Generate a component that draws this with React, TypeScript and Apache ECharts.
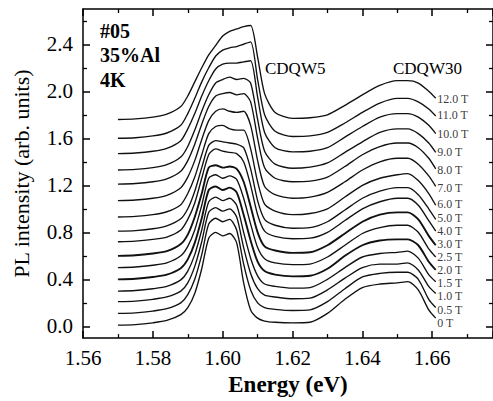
import React, { useEffect, useRef } from "react";
import * as echarts from "echarts";

// Photon energy grid (eV)
const energy = [
  1.570, 1.575, 1.580, 1.584, 1.588, 1.590, 1.592, 1.594, 1.596, 1.598,
  1.600, 1.602, 1.604, 1.606, 1.608, 1.610, 1.612, 1.615, 1.620, 1.625,
  1.630, 1.635, 1.640, 1.645, 1.650, 1.653, 1.656, 1.659, 1.661,
];

const fields = ["0 T", "0.5 T", "1.0 T", "1.5 T", "2.0 T", "2.5 T", "3.0 T", "4.0 T", "5.0 T", "6.0 T", "7.0 T", "8.0 T", "9.0 T", "10.0 T", "11.0 T", "12.0 T"];

// vertical offsets of the stacked spectra
const offsets = [0.01, 0.11, 0.21, 0.30, 0.40, 0.50, 0.60, 0.72, 0.81, 0.93, 1.07, 1.21, 1.33, 1.47, 1.60, 1.76];

// PL intensity above each baseline
const p0T = [0, .005, .02, .04, .09, .15, .27, .48, .74, .79, .76, .78, .70, .36, .13, .06, .035, .025, .02, .025, .10, .22, .32, .35, .36, .37, .30, .13, .06];
const p05T = [0, .005, .02, .04, .09, .16, .29, .50, .76, .81, .78, .80, .71, .42, .20, .09, .05, .035, .025, .03, .10, .21, .31, .34, .35, .35, .29, .12, .05];
const p1T = [0, .005, .02, .04, .09, .16, .30, .51, .76, .80, .77, .79, .72, .46, .24, .11, .055, .04, .025, .03, .10, .20, .29, .32, .32, .33, .27, .13, .07];
const p15T = [0, .005, .02, .04, .095, .17, .31, .52, .76, .80, .77, .79, .73, .50, .28, .13, .06, .04, .025, .03, .10, .20, .29, .32, .33, .34, .28, .14, .08];
const p2T = [0, .005, .02, .04, .095, .17, .31, .52, .76, .79, .76, .78, .74, .55, .33, .15, .07, .04, .025, .03, .09, .20, .29, .33, .34, .34, .29, .15, .08];
const p25T = [0, .005, .02, .04, .10, .18, .32, .53, .76, .79, .76, .78, .75, .59, .37, .17, .075, .04, .025, .03, .09, .19, .29, .34, .36, .36, .30, .16, .09];
const p3T = [0, .005, .02, .04, .10, .18, .33, .53, .75, .77, .75, .76, .74, .63, .42, .20, .08, .045, .025, .03, .09, .19, .29, .35, .37, .37, .31, .17, .09];
const p4T = [0, .005, .02, .04, .10, .19, .33, .54, .74, .79, .77, .76, .75, .68, .48, .23, .09, .045, .025, .03, .08, .18, .28, .34, .37, .37, .31, .18, .09];
const p5T = [0, .005, .02, .045, .105, .19, .34, .54, .73, .77, .76, .75, .74, .71, .53, .26, .10, .05, .025, .03, .08, .18, .28, .34, .37, .37, .31, .19, .10];
const p6T = [0, .005, .02, .045, .105, .20, .34, .53, .71, .77, .78, .75, .74, .74, .58, .30, .11, .05, .02, .03, .07, .17, .27, .33, .36, .37, .31, .20, .10];
const p7T = [0, .005, .02, .045, .11, .20, .34, .52, .68, .76, .78, .76, .75, .76, .64, .34, .12, .05, .02, .03, .07, .16, .26, .33, .36, .36, .31, .21, .12];
const p8T = [0, .005, .02, .045, .11, .20, .34, .51, .66, .75, .77, .78, .76, .77, .70, .39, .14, .05, .02, .025, .06, .15, .25, .32, .35, .35, .31, .22, .13];
const p9T = [0, .005, .02, .045, .11, .20, .34, .50, .64, .74, .77, .79, .77, .78, .74, .43, .16, .05, .015, .025, .06, .15, .24, .32, .35, .35, .31, .23, .15];
const p10T = [0, .005, .02, .045, .11, .21, .34, .49, .62, .72, .76, .77, .77, .78, .79, .48, .18, .05, .015, .02, .05, .14, .23, .31, .34, .34, .31, .24, .17];
const p11T = [0, .005, .02, .045, .11, .21, .34, .48, .60, .70, .75, .77, .78, .80, .82, .50, .20, .06, .015, .02, .05, .13, .22, .30, .34, .34, .31, .25, .19];
const p12T = [0, .005, .02, .045, .11, .20, .32, .44, .55, .63, .71, .75, .77, .79, .80, .53, .22, .06, .01, .015, .04, .12, .21, .29, .33, .33, .31, .24, .18];

const profiles = [p0T, p05T, p1T, p15T, p2T, p25T, p3T, p4T, p5T, p6T, p7T, p8T, p9T, p10T, p11T, p12T];

// field labels at the right end of the curves
const labelX = 1.6613;
const labelY = [0.030, 0.142, 0.254, 0.366, 0.478, 0.590, 0.702, 0.814, 0.926, 1.038, 1.179, 1.331, 1.482, 1.634, 1.794, 1.937];

const yTicks = [0, 0.4, 0.8, 1.2, 1.6, 2.0, 2.4];
const yMinorTicks = [0.2, 0.6, 1.0, 1.4, 1.8, 2.2, 2.6];

const notes = ["#05", "35%Al", "4K"];
const peakNames = ["CDQW5", "CDQW30"];

const FONT = "'Liberation Serif', 'Times New Roman', 'DejaVu Serif', serif";

export default function App() {
  const ref = useRef<HTMLDivElement>(null);

  useEffect(() => {
    const chart = echarts.init(ref.current!, null, { renderer: "svg" });

    const boldSet = new Set([4, 6]);
    const lineSeries = profiles.map((p, i) => ({
      type: "line",
      name: fields[i],
      xAxisIndex: 0,
      yAxisIndex: 0,
      data: energy.map((e, k) => [e, +(offsets[i] + p[k]).toFixed(4)]),
      showSymbol: false,
      smooth: 0.25,
      silent: true,
      lineStyle: { color: "#111", width: boldSet.has(i) ? 1.9 : 1.35 },
    }));

    const isMajor = (v: number) => Math.abs(v / 0.02 - Math.round(v / 0.02)) < 1e-6;

    const xBase = {
      type: "value",
      min: 1.56,
      max: 1.6774,
      interval: 0.02,
      splitLine: { show: false },
      axisLine: { show: true, onZero: false, lineStyle: { color: "#000", width: 1.5 } },
      axisTick: { show: true, inside: true, length: 7, lineStyle: { color: "#000", width: 1.5 } },
      minorTick: { show: true, splitNumber: 2, length: 4, lineStyle: { color: "#000", width: 1.3 } },
    };

    const yBase = {
      type: "value",
      min: -0.1,
      max: 2.7,
      splitLine: { show: false },
    };

    const option = {
      animation: false,
      backgroundColor: "#fff",
      grid: { left: 83, right: -1, top: 9, bottom: 59, containLabel: false },
      xAxis: [
        {
          ...xBase,
          position: "bottom",
          name: "Energy (eV)",
          nameLocation: "middle",
          nameGap: 33,
          nameTextStyle: { fontFamily: FONT, fontSize: 23, fontWeight: "bold", color: "#000" },
          axisLabel: {
            show: true,
            fontFamily: FONT,
            fontSize: 21,
            color: "#000",
            margin: 9,
            showMaxLabel: false,
            formatter: (v: number) => (isMajor(v) ? v.toFixed(2) : ""),
          },
        },
        { ...xBase, position: "top", axisLabel: { show: false } },
      ],
      yAxis: [
        {
          ...yBase,
          position: "left",
          name: "PL intensity (arb. units)",
          nameLocation: "middle",
          nameGap: 51,
          nameTextStyle: { fontFamily: FONT, fontSize: 22, color: "#000" },
          axisLine: { show: true, onZero: false, lineStyle: { color: "#000", width: 1.5 } },
          axisTick: { show: true, inside: true, length: 7, customValues: yTicks, lineStyle: { color: "#000", width: 1.5 } },
          axisLabel: {
            show: true,
            customValues: yTicks,
            fontFamily: FONT,
            fontSize: 21,
            color: "#000",
            margin: 10,
            formatter: (v: number) => v.toFixed(1),
          },
        },
        {
          ...yBase,
          position: "left",
          axisLine: { show: false, onZero: false },
          axisTick: { show: true, inside: true, length: 4, customValues: yMinorTicks, lineStyle: { color: "#000", width: 1.3 } },
          axisLabel: { show: false },
        },
        {
          ...yBase,
          position: "right",
          axisLine: { show: true, onZero: false, lineStyle: { color: "#000", width: 1.5 } },
          axisTick: { show: true, inside: true, length: 7, customValues: yTicks, lineStyle: { color: "#000", width: 1.5 } },
          axisLabel: { show: false },
        },
        {
          ...yBase,
          position: "right",
          axisLine: { show: false, onZero: false },
          axisTick: { show: true, inside: true, length: 4, customValues: yMinorTicks, lineStyle: { color: "#000", width: 1.3 } },
          axisLabel: { show: false },
        },
      ],
      series: [
        ...lineSeries,
        {
          type: "scatter",
          xAxisIndex: 0,
          yAxisIndex: 0,
          silent: true,
          symbolSize: 1,
          itemStyle: { color: "rgba(0,0,0,0)" },
          data: labelY.map((y, i) => ({ value: [labelX, y], name: fields[i] })),
          label: {
            show: true,
            position: "right",
            distance: 0,
            formatter: (p: any) => p.name,
            fontFamily: FONT,
            fontSize: 12,
            lineHeight: 12,
            color: "#000",
          },
        },
      ],
      graphic: [
        ...notes.map((t, i) => ({
          type: "text",
          x: 100,
          y: [31, 55, 80][i],
          style: { text: t, fontFamily: FONT, fontSize: 20, fontWeight: "bold", fill: "#000", verticalAlign: "middle" },
        })),
        {
          type: "text",
          x: 265,
          y: 68,
          style: { text: peakNames[0], fontFamily: FONT, fontSize: 17, fill: "#000", verticalAlign: "middle" },
        },
        {
          type: "text",
          x: 393,
          y: 68,
          style: { text: peakNames[1], fontFamily: FONT, fontSize: 17, fill: "#000", verticalAlign: "middle" },
        },
      ],
    };

    chart.setOption(option as any);
    return () => chart.dispose();
  }, []);

  return (
    <div
      ref={ref}
      style={{ position: "absolute", left: 0, top: 0, width: 493, height: 401, background: "#fff" }}
    />
  );
}
